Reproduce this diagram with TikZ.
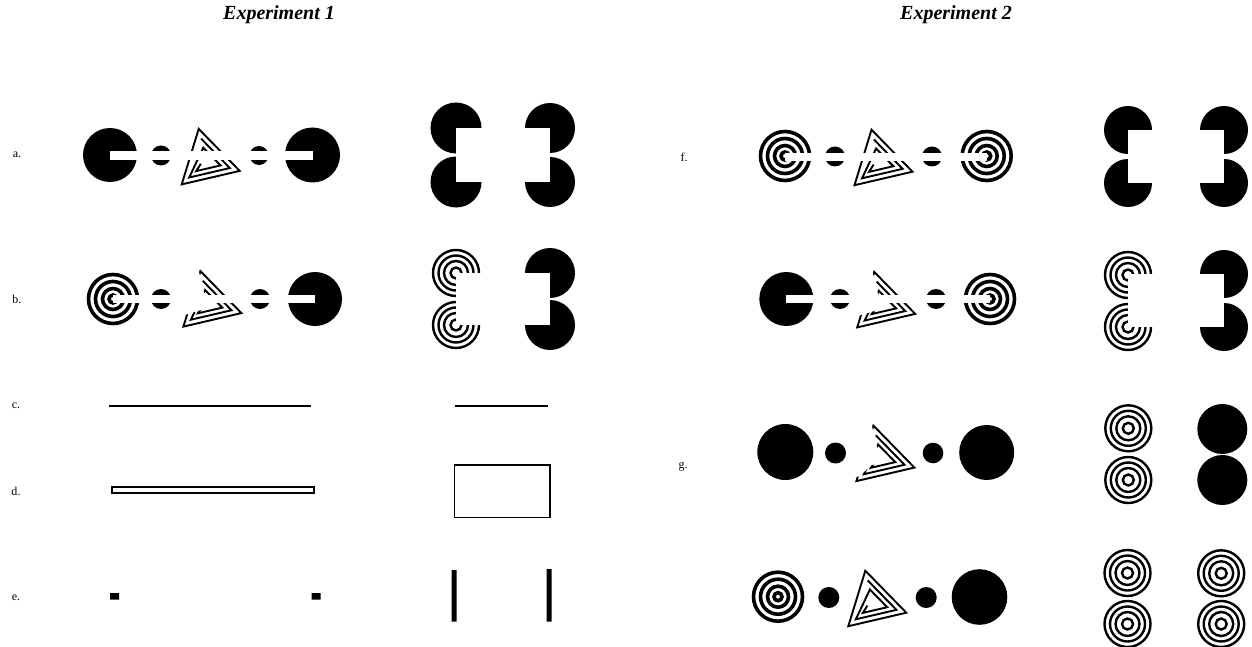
\documentclass[tikz,border=0pt]{standalone}
\usepackage{fontspec}
\setmainfont{Liberation Serif}
\begin{document}
\begin{tikzpicture}[x=1pt,y=-1pt,
  lbl/.style={font=\fontsize{12}{14}\selectfont,inner sep=0pt},
  ttl/.style={font=\fontsize{20}{24}\selectfont\bfseries\itshape,inner sep=0pt},
  gap/.style={fill=white},
  thick ring/.pic={\foreach \r in {24.5,17.5,10.5,4}\draw[line width=3.6pt](0,0)circle[radius=\r pt];},
  thin ring/.pic={\foreach \r in {23,17.5,12,5.5}\draw[line width=2.4pt](0,0)circle[radius=\r pt];},
  tri/.pic={\draw[line width=1.9pt](-8,-32.5)--(33,9.5)--(-25,23)--cycle
    (-5.6,-22.75)--(23.1,6.65)--(-17.5,16.1)--(-3.4,-13.7)--(13.9,4)--(-10.5,9.7)--(-5.9,2.4);},
  hidden tri/.pic={\begin{scope}
    \clip(-12.6,-45)--(-0.56,4)--(-10.5,7.5)--(-22,#1)--(-40,#1)--(-40,40)--(50,40)--(50,-45)--cycle;
    \pic{tri};
    \end{scope}}]
\useasboundingbox (0,0) rectangle (1252,647);
\node[ttl](t1) at (279,15){Experiment 1};
\node[ttl](t2) at (956,15){Experiment 2};
\node[lbl](la) at (17,155){a.};
\node[lbl](lb) at (17,299){b.};
\node[lbl](lc) at (16,406){c.};
\node[lbl](ld) at (16,491){d.};
\node[lbl](le) at (16,598){e.};
\node[lbl](lf) at (684,157){f.};
\node[lbl](lg) at (683,467){g.};
% experiment 1
\fill (110,155) circle[radius=27pt] (161,155.5) circle[radius=10pt]
  (259,155.5) circle[radius=9.5pt] (312.5,155) circle[radius=27.5pt];
\pic at (206.7,161.4) {tri};
\fill[gap] (110,151) rectangle (312.5,160);
\fill (456,128) circle[radius=25.5pt] (456,182) circle[radius=25.5pt]
  (550,128) circle[radius=25pt] (550,182) circle[radius=25pt];
\fill[gap] (456,128) rectangle (550,182);
\pic at (113,299) {thick ring};
\fill (161,299) circle[radius=10pt] (260,299) circle[radius=10pt] (315,299) circle[radius=27pt];
\pic at (208.4,303.6) {hidden tri=11};
\fill[gap] (113,295) rectangle (315,303);
\pic at (456,273) {thin ring};
\pic at (456,325) {thin ring};
\fill (550,273) circle[radius=25pt] (550,325) circle[radius=25pt];
\fill[gap] (456,273) rectangle (550,325);
\draw[line width=1.2pt] (109,406)--(311,406) (455,406)--(548,406);
\draw[line width=1.1pt] (112,487) rectangle (314,493) (454.5,465) rectangle (550,517.5);
\fill (110,593) rectangle (119,599.5) (311.5,593) rectangle (320.5,599.5)
  (451.5,570) rectangle (456.5,621.5) (546.5,569) rectangle (551.5,621.5);
% experiment 2
\pic at (785,156) {thick ring};
\pic at (986.7,156) {thick ring};
\fill (835,156.5) circle[radius=10pt] (932,156.5) circle[radius=10pt];
\pic at (879.5,162.2) {tri};
\fill[gap] (785,153) rectangle (986.7,161);
\fill (1128,130) circle[radius=24pt] (1128,183) circle[radius=24pt]
  (1224,130) circle[radius=24pt] (1224,183) circle[radius=24pt];
\fill[gap] (1128,130) rectangle (1224,183);
\fill (786.3,299) circle[radius=27pt] (840,299) circle[radius=10pt] (936,299) circle[radius=10pt];
\pic at (990,299) {thick ring};
\pic at (882.2,304.4) {hidden tri=11};
\fill[gap] (786.3,295) rectangle (990,303);
\pic at (1128,275) {thin ring};
\pic at (1128,327) {thin ring};
\fill (1224,274) circle[radius=24pt] (1224,327) circle[radius=24pt];
\fill[gap] (1128,274) rectangle (1224,327);
\fill (785.3,452) circle[radius=28pt] (835.5,453) circle[radius=10.5pt]
  (933,453) circle[radius=10.3pt] (986.7,452.5) circle[radius=27.5pt];
\pic at (881.4,458.1) {hidden tri=18.5};
\pic at (1128.3,428.3) {thin ring};
\pic at (1128.3,480) {thin ring};
\fill (1222.3,429) circle[radius=25pt] (1222.3,480) circle[radius=25pt];
\pic at (778,596.7) {thick ring};
\fill (828.8,597.5) circle[radius=10.5pt] (926.2,597.5) circle[radius=10.5pt]
  (979.5,597) circle[radius=27.8pt];
\pic at (873.3,603.2) {tri};
\pic at (1127.5,573) {thin ring};
\pic at (1127.5,624) {thin ring};
\pic at (1221.2,573.3) {thin ring};
\pic at (1221.2,624) {thin ring};
\end{tikzpicture}
\end{document}
